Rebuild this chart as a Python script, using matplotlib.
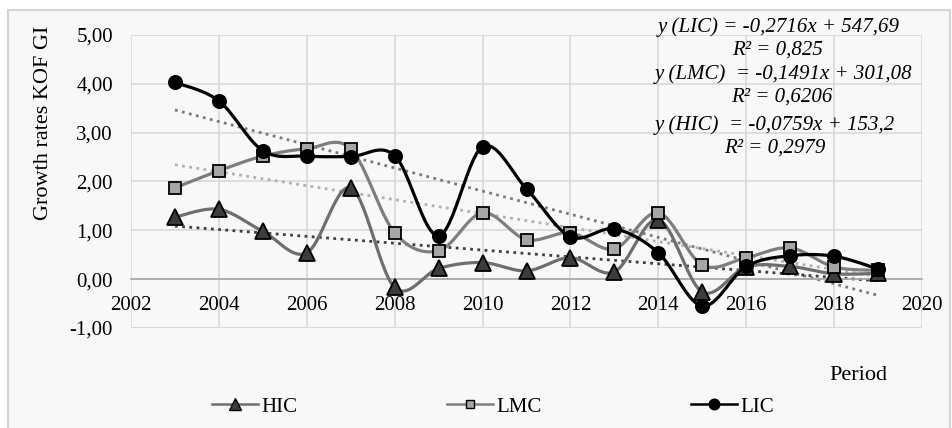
import matplotlib.pyplot as plt
import numpy as np
from matplotlib.patches import Rectangle
from matplotlib.lines import Line2D

plt.rcParams['font.family'] = ['Liberation Serif', 'DejaVu Serif']

years = list(range(2003, 2020))
hic = [1.27, 1.43, 0.98, 0.54, 1.87, -0.17, 0.22, 0.34, 0.17, 0.44, 0.15, 1.22, -0.26, 0.25, 0.26, 0.11, 0.12]
lmc = [1.87, 2.22, 2.52, 2.67, 2.67, 0.95, 0.58, 1.36, 0.81, 0.95, 0.62, 1.36, 0.29, 0.44, 0.64, 0.25, 0.18]
lic = [4.03, 3.65, 2.63, 2.52, 2.51, 2.53, 0.89, 2.71, 1.85, 0.87, 1.03, 0.54, -0.55, 0.26, 0.48, 0.47, 0.21]

equations = ['y (LIC) = -0,2716x + 547,69', 'R² = 0,825',
             'y (LMC)  = -0,1491x + 301,08', 'R² = 0,6206',
             'y (HIC)  = -0,0759x + 153,2', 'R² = 0,2979']
yticks = [-1, 0, 1, 2, 3, 4, 5]
xticks = list(range(2002, 2021, 2))


def smooth(x, y, n=30):
    # excel-like smoothed line: bezier segments, control points from neighbours
    x = np.asarray(x, float)
    y = np.asarray(y, float)
    px = np.concatenate([[x[0]], x, [x[-1]]])
    py = np.concatenate([[y[0]], y, [y[-1]]])
    xs, ys = [], []
    t = np.linspace(0, 1, n)
    for i in range(1, len(px) - 2):
        p0 = np.array([px[i], py[i]])
        p3 = np.array([px[i + 1], py[i + 1]])
        c1 = p0 + (np.array([px[i + 1], py[i + 1]]) - np.array([px[i - 1], py[i - 1]])) / 6
        c2 = p3 - (np.array([px[i + 2], py[i + 2]]) - np.array([px[i], py[i]])) / 6
        b = ((1 - t) ** 3)[:, None] * p0 + (3 * (1 - t) ** 2 * t)[:, None] * c1 \
            + (3 * (1 - t) * t ** 2)[:, None] * c2 + (t ** 3)[:, None] * p3
        xs.extend(b[:, 0])
        ys.extend(b[:, 1])
    return xs, ys


fig = plt.figure(figsize=(9.52, 4.28), dpi=100)
fig.patch.set_facecolor('white')
fig.patches.append(Rectangle((8 / 952, -10 / 428), 942 / 952, 428 / 428, transform=fig.transFigure,
                             facecolor='#f8f8f8', edgecolor='#d4d4d4', lw=1.5, zorder=-10))

ax = fig.add_axes([131 / 952, 1 - 328 / 428, 791 / 952, 293 / 428])
ax.set_facecolor('#f8f8f8')
ax.set_xlim(2002, 2020)
ax.set_ylim(-1, 5)
ax.set_xticks(xticks)
ax.set_yticks(yticks)
ax.set_yticklabels([('%.2f' % v).replace('.', ',') for v in yticks])
ax.grid(True, color='#d9d9d9', lw=1.2)
ax.set_axisbelow(True)
for s in ['top', 'right', 'left']:
    ax.spines[s].set_visible(False)
ax.spines['bottom'].set_position(('data', 0))
ax.spines['bottom'].set_color('#a6a6a6')
ax.spines['bottom'].set_linewidth(1.2)
ax.tick_params(axis='both', length=0, labelsize=15)
ax.tick_params(axis='x', pad=12)
ax.tick_params(axis='y', pad=13)
ax.axhline(-1, color='#d9d9d9', lw=1.2, zorder=0)

# trend lines
for vals, col in [(lic, '#7a7a7a'), (lmc, '#b0b0b0'), (hic, '#3f3f3f')]:
    k, b0 = np.polyfit(years, vals, 1)
    xx = np.array([years[0], years[-1]])
    ax.plot(xx, k * xx + b0, color=col, lw=2, linestyle=(0, (1, 1.6)), zorder=2)

series = [
    ('HIC', hic, '#6e6e6e', '^', '#3c3c3c', 11),
    ('LMC', lmc, '#7e7e7e', 's', '#a6a6a6', 8),
    ('LIC', lic, '#000000', 'o', '#000000', 9.5),
]
handles = []
for name, vals, lc, mk, mf, ms in series:
    sx, sy = smooth(years, vals)
    ax.plot(sx, sy, color=lc, lw=2.3, zorder=3)
    ax.plot(years, vals, linestyle='none', marker=mk, markersize=ms, markerfacecolor=mf,
            markeredgecolor='black', markeredgewidth=1.3, zorder=4)
    handles.append(Line2D([], [], color=lc, lw=1.8, marker=mk, markersize=ms * 0.8,
                          markerfacecolor=mf, markeredgecolor='black', label=name))

ax.set_ylabel('Growth rates KOF GI', fontsize=16)
ax.yaxis.set_label_coords(-0.099, 0.70)

fig.text(858 / 952, 1 - 375 / 428, 'Period', fontsize=16, ha='center', va='center')

eq_pos = [(779, 27), (778, 50), (784, 74), (782, 97), (775, 125), (775, 148)]
for s, (px, py) in zip(equations, eq_pos):
    fig.text(px / 952, 1 - py / 428, s, fontsize=15, style='italic', ha='center', va='center')

fig.legend(handles=handles, loc='center', bbox_to_anchor=(0.518, 1 - 407 / 428), ncol=3,
           frameon=False, fontsize=15, handlelength=2.2, handletextpad=0.15, columnspacing=7.2)

fig.savefig('out.png', dpi=100, facecolor=fig.get_facecolor())
